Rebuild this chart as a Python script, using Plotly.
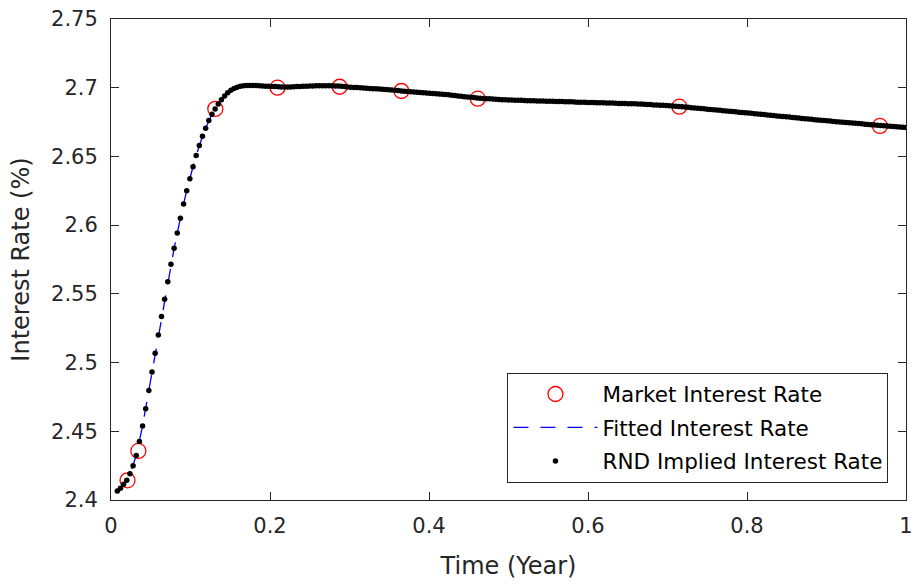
import plotly.graph_objects as go

# Market quotes (time in years, rate in %)
MARKET_TIME = [0.0208, 0.0344, 0.1312, 0.2095, 0.2876, 0.3653, 0.4613, 0.7149, 0.9672]
MARKET_RATE = [2.4143, 2.4357, 2.6846, 2.7000, 2.7007, 2.6976, 2.6920, 2.6862, 2.6722]

# Fitted curve knots
FITTED_TIME = [0.0079, 0.0159, 0.0238, 0.0317, 0.0397, 0.0476, 0.0556, 0.0635, 0.0714,
               0.0794, 0.0873, 0.0952, 0.1032, 0.1111, 0.1190, 0.1270, 0.1349, 0.1429,
               0.1508, 0.1587, 0.1667, 0.1825, 0.2000, 0.2500, 0.3000, 0.3500, 0.4000,
               0.4500, 0.5000, 0.6000, 0.7000, 0.8000, 0.9000, 1.0000]
FITTED_RATE = [2.4062, 2.4112, 2.4188, 2.4322, 2.4540, 2.4795, 2.5066, 2.5336, 2.5589,
               2.5831, 2.6051, 2.6251, 2.6425, 2.6580, 2.6705, 2.6807, 2.6882, 2.6940,
               2.6981, 2.7004, 2.7014, 2.7016, 2.7010, 2.7012, 2.7005, 2.6986, 2.6960,
               2.6930, 2.6911, 2.6893, 2.6870, 2.6818, 2.6759, 2.6710]

# RND implied rate, one value per trading day starting at day 2
DAYS_PER_YEAR = 252
FIRST_DAY = 2
RND_RATE = [
    2.4065, 2.4085, 2.4114, 2.4143, 2.4191, 2.4249, 2.4324, 2.4425, 2.4539, 2.4664,
    2.4797, 2.4932, 2.5067, 2.5200, 2.5336, 2.5461, 2.5589, 2.5715, 2.5831, 2.5942,
    2.6051, 2.6154, 2.6251, 2.6338, 2.6425, 2.6507, 2.6580, 2.6647, 2.6705, 2.6761,
    2.6807, 2.6846, 2.6882, 2.6913, 2.6940,
    2.6963, 2.6981, 2.6995, 2.7004, 2.7010, 2.7014, 2.7016, 2.7017, 2.7017, 2.7016,
    2.7015, 2.7013, 2.7011, 2.7010, 2.7009, 2.7008, 2.7007, 2.7006, 2.7006, 2.7006,
    2.7006, 2.7007, 2.7008, 2.7009, 2.7010, 2.7011, 2.7012, 2.7013, 2.7014, 2.7015,
    2.7015, 2.7015, 2.7015, 2.7014, 2.7013, 2.7012, 2.7010, 2.7008, 2.7006,
    2.7004, 2.7002, 2.7001, 2.6999, 2.6998, 2.6996, 2.6995, 2.6993, 2.6992, 2.6990,
    2.6988, 2.6987, 2.6985, 2.6983, 2.6981, 2.6979, 2.6977, 2.6975, 2.6973, 2.6971,
    2.6969, 2.6967, 2.6965, 2.6963, 2.6962, 2.6960, 2.6958, 2.6956, 2.6954, 2.6952,
    2.6951, 2.6948, 2.6945, 2.6943, 2.6940, 2.6938, 2.6935, 2.6933, 2.6930, 2.6928,
    2.6926, 2.6924, 2.6922, 2.6920, 2.6919, 2.6917, 2.6916, 2.6914, 2.6913, 2.6912,
    2.6911, 2.6910, 2.6909, 2.6909, 2.6908, 2.6907, 2.6906, 2.6906, 2.6905, 2.6904,
    2.6904, 2.6903, 2.6902, 2.6902, 2.6901, 2.6900, 2.6899, 2.6899, 2.6898, 2.6897,
    2.6897, 2.6896, 2.6895, 2.6895, 2.6894, 2.6893, 2.6892, 2.6892, 2.6891, 2.6890,
    2.6890, 2.6889, 2.6888, 2.6888, 2.6887, 2.6886, 2.6885, 2.6885, 2.6884, 2.6883,
    2.6883, 2.6882, 2.6881, 2.6879, 2.6878, 2.6877, 2.6875, 2.6874, 2.6873, 2.6872,
    2.6870, 2.6869, 2.6867, 2.6865, 2.6863, 2.6861, 2.6859, 2.6857, 2.6855, 2.6853,
    2.6851, 2.6849, 2.6847, 2.6844, 2.6842, 2.6840, 2.6838, 2.6836, 2.6833, 2.6831,
    2.6829, 2.6827, 2.6825, 2.6822, 2.6820, 2.6818, 2.6816, 2.6814, 2.6811, 2.6809,
    2.6807, 2.6805, 2.6802, 2.6800, 2.6798, 2.6795, 2.6793, 2.6790, 2.6788, 2.6786,
    2.6783, 2.6781, 2.6779, 2.6776, 2.6774, 2.6772, 2.6770, 2.6767, 2.6765, 2.6763,
    2.6761, 2.6759, 2.6757, 2.6755, 2.6753, 2.6751, 2.6749, 2.6747, 2.6745, 2.6743,
    2.6741, 2.6739, 2.6737, 2.6735, 2.6733, 2.6731, 2.6729, 2.6727, 2.6725, 2.6723,
    2.6721, 2.6719, 2.6717, 2.6716, 2.6714, 2.6712, 2.6710,
]
RND_TIME = [(FIRST_DAY + i) / DAYS_PER_YEAR for i in range(len(RND_RATE))]

# Axis ticks
X_TICKS = [0, 0.2, 0.4, 0.6, 0.8, 1]
X_TICK_TEXT = ["0", "0.2", "0.4", "0.6", "0.8", "1"]
Y_TICKS = [2.4, 2.45, 2.5, 2.55, 2.6, 2.65, 2.7, 2.75]
Y_TICK_TEXT = ["2.4", "2.45", "2.5", "2.55", "2.6", "2.65", "2.7", "2.75"]

FONT = "DejaVu Sans"
INK = "#262626"

fig = go.Figure()

fig.add_trace(go.Scatter(
    x=MARKET_TIME, y=MARKET_RATE, mode="markers", name="Market Interest Rate",
    legendgroup="market",
    marker=dict(symbol="circle-open", size=15, color="#ff0000", line=dict(width=1.3, color="#ff0000")),
))
fig.add_trace(go.Scatter(
    x=FITTED_TIME, y=FITTED_RATE, mode="lines", name="Fitted Interest Rate",
    legendgroup="fitted",
    line=dict(color="#0000ff", width=1.3, dash="15px,12px"),
))
fig.add_trace(go.Scatter(
    x=RND_TIME, y=RND_RATE, mode="markers", name="RND Implied Interest Rate",
    legendgroup="rnd",
    marker=dict(symbol="circle", size=5.5, color="#000000"),
))

axis_common = dict(
    showline=True, linecolor=INK, linewidth=1, mirror="ticks",
    ticks="inside", ticklen=8, tickwidth=1, tickcolor=INK,
    showgrid=False, zeroline=False,
    tickfont=dict(family=FONT, size=21, color=INK),
)

fig.update_layout(
    width=920, height=587,
    margin=dict(l=111, r=7, t=17, b=87),
    paper_bgcolor="white", plot_bgcolor="white",
    font=dict(family=FONT, color=INK),
    xaxis=dict(
        range=[0, 1], tickvals=X_TICKS, ticktext=X_TICK_TEXT,
        ticklabelstandoff=7,
        title=dict(text="Time (Year)", font=dict(family=FONT, size=24, color=INK), standoff=19),
        **axis_common,
    ),
    yaxis=dict(
        range=[2.4, 2.75], tickvals=Y_TICKS, ticktext=Y_TICK_TEXT,
        ticklabelstandoff=8,
        title=dict(text="Interest Rate (%)", font=dict(family=FONT, size=24, color=INK), standoff=14),
        **axis_common,
    ),
    legend=dict(
        x=0.4987, xanchor="left", y=0.265, yanchor="top",
        bgcolor="white", bordercolor=INK, borderwidth=1,
        font=dict(family=FONT, size=21.5, color="#000000"),
        itemwidth=84, tracegroupgap=2.5, traceorder="grouped",
    ),
    showlegend=True,
)

fig.write_html("out.html")
